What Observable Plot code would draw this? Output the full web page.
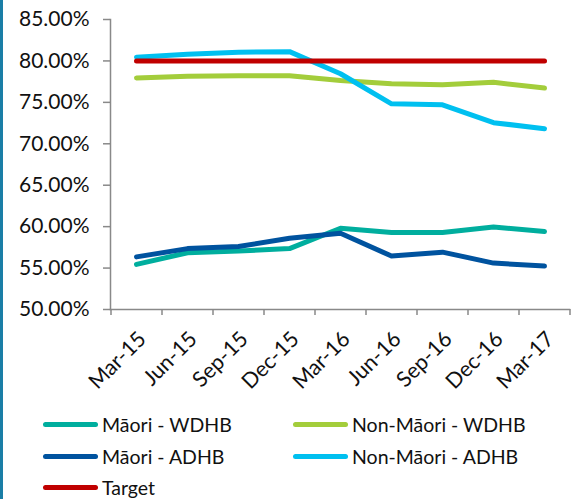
<!DOCTYPE html>
<html>
<head>
<meta charset="utf-8">
<script src="https://cdn.jsdelivr.net/npm/d3@7"></script>
<script src="https://cdn.jsdelivr.net/npm/@observablehq/plot@0.6"></script>
<style>
  html, body { margin: 0; padding: 0; background: #fff; }
  body { width: 575px; height: 499px; position: relative; overflow: hidden; font-family: Lato, "Open Sans", sans-serif; }
  #border { position: absolute; left: 0; top: 0; width: 3px; height: 499px; background: #1a7ea6; z-index: 5; }
  #chart { position: absolute; left: 0; top: 0; }
  #legend { position: absolute; left: 43px; top: 409px; display: grid; grid-template-columns: 250px 250px; row-gap: 0; }
  .item { display: flex; align-items: center; height: 31.5px; font-size: 19.5px; line-height: 1; color: #111; }
  .sw { width: 55px; height: 5px; border-radius: 3px; margin-right: 4px; }
</style>
</head>
<body>
<div id="border"></div>
<div id="chart"></div>
<div id="legend"></div>
<script>
const quarters = ["Mar-15","Jun-15","Sep-15","Dec-15","Mar-16","Jun-16","Sep-16","Dec-16","Mar-17"];
const seriesNames = ["Māori - WDHB","Non-Māori - WDHB","Māori - ADHB","Non-Māori - ADHB","Target"];
const seriesColors = ["#00ae9e","#a3cd3b","#00539f","#00c0f0","#c00000"];
const maoriWDHB    = [55.45, 56.85, 57.05, 57.35, 59.8, 59.3, 59.3, 59.95, 59.4];
const nonMaoriWDHB = [77.95, 78.15, 78.2, 78.2, 77.65, 77.25, 77.12, 77.42, 76.72];
const maoriADHB    = [56.35, 57.35, 57.6, 58.6, 59.2, 56.45, 56.92, 55.6, 55.25];
const nonMaoriADHB = [80.45, 80.8, 81.05, 81.12, 78.45, 74.82, 74.7, 72.55, 71.82];
const target       = [80, 80, 80, 80, 80, 80, 80, 80, 80];
const yTicks = [50, 55, 60, 65, 70, 75, 80, 85];

const valuesBySeries = [maoriWDHB, nonMaoriWDHB, maoriADHB, nonMaoriADHB, target];
const data = [];
seriesNames.forEach((s, si) => quarters.forEach((q, qi) => data.push({series: s, quarter: q, value: valuesBySeries[si][qi]})));

const W = 575, H = 400, mL = 110, mR = 6, mT = 19, mB = 91;
const halfStep = (W - mL - mR) / quarters.length / 2;
const axisColor = "#898989";

const chart = Plot.plot({
  width: W, height: H,
  marginLeft: mL, marginRight: mR, marginTop: mT, marginBottom: mB,
  style: {fontFamily: "Lato, 'Open Sans', sans-serif", fontSize: "21px", color: "#111", background: "#fff"},
  x: {type: "point", domain: quarters, padding: 0.5, label: null, axis: null},
  y: {domain: [50, 85], label: null},
  color: {domain: seriesNames, range: seriesColors},
  marks: [
    Plot.axisY({ticks: yTicks, tickFormat: d => d.toFixed(2) + "%", tickSize: 7, tickPadding: 14, stroke: axisColor, strokeWidth: 1.5, strokeOpacity: 1, fill: "#111", fontSize: 21, label: null}),
    Plot.text(quarters, {x: d => d, y: 50, text: d => d, rotate: -45, textAnchor: "end", dx: 6, dy: 26, fill: "#111", fontSize: 21.5}),
    Plot.frame({anchor: "left", stroke: axisColor, strokeWidth: 1.5}),
    Plot.frame({anchor: "bottom", stroke: axisColor, strokeWidth: 1.5}),
    Plot.ruleX(quarters, {x: d => d, y1: 50, y2: 50, dx: -halfStep, insetBottom: -6, stroke: axisColor, strokeWidth: 1.5}),
    Plot.ruleX(quarters.slice(-1), {x: d => d, y1: 50, y2: 50, dx: halfStep, insetBottom: -6, stroke: axisColor, strokeWidth: 1.5}),
    Plot.line(data, {x: "quarter", y: "value", z: "series", stroke: "series", strokeWidth: 5, strokeLinecap: "round", strokeLinejoin: "round"})
  ]
});
document.getElementById("chart").appendChild(chart);

const legend = document.getElementById("legend");
seriesNames.forEach((s, i) => {
  const item = document.createElement("div");
  item.className = "item";
  const sw = document.createElement("span");
  sw.className = "sw";
  sw.style.background = seriesColors[i];
  const t = document.createElement("span");
  t.textContent = s;
  item.appendChild(sw); item.appendChild(t);
  legend.appendChild(item);
});
</script>
</body>
</html>
